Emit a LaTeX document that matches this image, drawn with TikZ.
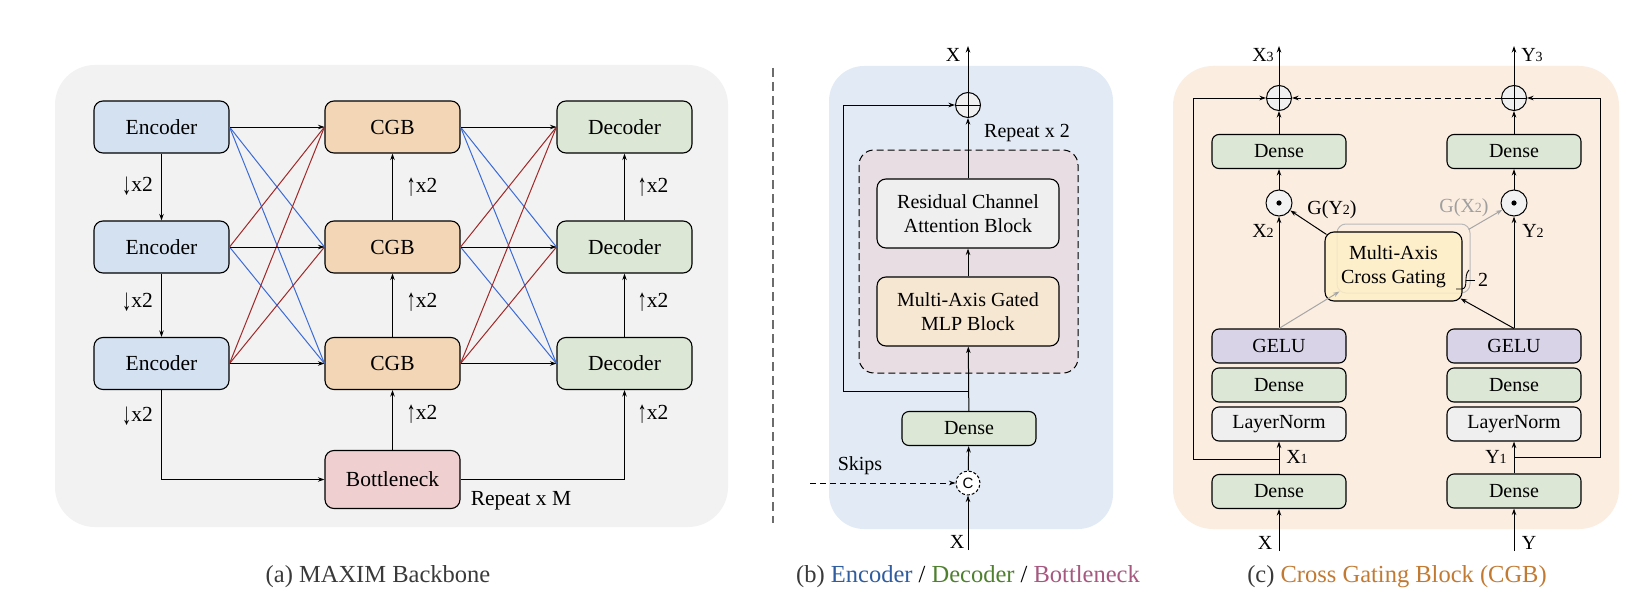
\documentclass[tikz,border=0pt]{standalone}
\usepackage{fontspec}
\usepackage{graphicx}
\setmainfont{Liberation Serif}
\newfontfamily\sansf{Liberation Sans}
\usetikzlibrary{arrows.meta}

\definecolor{bgA}{HTML}{F2F2F2}
\definecolor{bgB}{HTML}{E2EBF5}
\definecolor{bgC}{HTML}{FBEDE0}
\definecolor{encF}{HTML}{D4E1F1}
\definecolor{cgbF}{HTML}{F2D6B5}
\definecolor{decF}{HTML}{DCE8D5}
\definecolor{botF}{HTML}{EFCFD0}
\definecolor{repF}{HTML}{E8DDE3}
\definecolor{rcabF}{HTML}{EFEFEF}
\definecolor{mlpF}{HTML}{F6E7D2}
\definecolor{geluF}{HTML}{D9D3E8}
\definecolor{gateF}{HTML}{FFF0C6}
\definecolor{skipB}{HTML}{3A6BD6}
\definecolor{skipR}{HTML}{A02828}
\definecolor{capK}{HTML}{3A3A3A}
\definecolor{capB}{HTML}{2F5D9F}
\definecolor{capG}{HTML}{4F8030}
\definecolor{capM}{HTML}{A6587F}
\definecolor{capO}{HTML}{C27A33}

\newcommand\subd[1]{{\fontsize{14}{14}\selectfont #1}}
\newcommand\dnx{\raisebox{-0.12em}{\scalebox{0.85}[1.45]{↓}}x2}
\newcommand\upx{\raisebox{-0.12em}{\scalebox{0.85}[1.45]{↑}}x2}

\begin{document}
\begin{tikzpicture}[x=1pt,y=-1pt,
  box/.style={draw, rounded corners=9pt, line width=1.1pt, inner sep=0pt, align=center},
  abox/.style={box, minimum width=135pt, minimum height=52pt, font=\fontsize{21.5}{24}\selectfont},
  cbox/.style={box, rounded corners=7pt, minimum width=134pt, minimum height=34pt, font=\fontsize{20}{23}\selectfont},
  lbl/.style={inner sep=0pt, font=\fontsize{20}{23}\selectfont},
  albl/.style={inner sep=0pt, font=\fontsize{21.5}{24}\selectfont},
  arr/.style={line width=1pt, -{Stealth[length=6.5pt,width=4.5pt]}},
  dasharr/.style={arr, dash pattern=on 6pt off 4pt},
  grayarr/.style={arr, draw=gray!70},
  bline/.style={line width=1pt, draw=skipB},
  rline/.style={line width=1pt, draw=skipR},
  opplus/.style={circle, draw, line width=1pt, fill=gray!12, minimum size=25pt, inner sep=0pt,
    path picture={\draw[black, line width=1pt] (path picture bounding box.north) -- (path picture bounding box.south)
      (path picture bounding box.west) -- (path picture bounding box.east);}},
  opdot/.style={circle, draw, line width=1pt, fill=gray!10, minimum size=26pt, inner sep=0pt,
    path picture={\fill[black] (path picture bounding box.center) circle (2.6pt);}},
  panel/.style={rounded corners=40pt, draw=none}
]
\useasboundingbox (0,0) rectangle (1644,602);
\fill[white] (0,0) rectangle (1644,602);

% ---------- (a) backbone ----------
\fill[panel, fill=bgA] (55,65) rectangle (728,527);

\node[abox, fill=encF] (e1) at (161.5,127) {Encoder};
\node[abox, fill=encF] (e2) at (161.5,247) {Encoder};
\node[abox, fill=encF] (e3) at (161.5,363.5) {Encoder};
\node[abox, fill=cgbF] (c1) at (392.5,127) {CGB};
\node[abox, fill=cgbF] (c2) at (392.5,247) {CGB};
\node[abox, fill=cgbF] (c3) at (392.5,363.5) {CGB};
\node[abox, fill=decF] (d1) at (624.5,127) {Decoder};
\node[abox, fill=decF] (d2) at (624.5,247) {Decoder};
\node[abox, fill=decF] (d3) at (624.5,363.5) {Decoder};
\node[abox, fill=botF, minimum height=58pt] (bn) at (392.5,479.5) {Bottleneck};

% cross-scale connections
\draw[bline] (e1.east) -- (c2.west);
\draw[bline] (e1.east) -- (c3.west);
\draw[bline] (e2.east) -- (c3.west);
\draw[rline] (e2.east) -- (c1.west);
\draw[rline] (e3.east) -- (c1.west);
\draw[rline] (e3.east) -- (c2.west);
\draw[bline] (c1.east) -- (d2.west);
\draw[bline] (c1.east) -- (d3.west);
\draw[bline] (c2.east) -- (d3.west);
\draw[rline] (c2.east) -- (d1.west);
\draw[rline] (c3.east) -- (d1.west);
\draw[rline] (c3.east) -- (d2.west);

\foreach \i in {1,2,3} {
  \draw[arr] (e\i) -- (c\i);
  \draw[arr] (c\i) -- (d\i);
}
\draw[arr] (e1) -- (e2);
\draw[arr] (e2) -- (e3);
\draw[arr] (c2) -- (c1);
\draw[arr] (c3) -- (c2);
\draw[arr] (bn) -- (c3);
\draw[arr] (d2) -- (d1);
\draw[arr] (d3) -- (d2);
\draw[arr] (e3.south) |- (bn.west);
\draw[arr] (bn.east) -| (d3.south);

\node[albl] (ld1) at (137.5,186) {\dnx};
\node[albl] (ld2) at (137.5,302) {\dnx};
\node[albl] (ld3) at (137.5,416) {\dnx};
\node[albl] (lu1) at (422,187) {\upx};
\node[albl] (lu2) at (422,302) {\upx};
\node[albl] (lu3) at (422,414) {\upx};
\node[albl] (lv1) at (653,187) {\upx};
\node[albl] (lv2) at (653,302) {\upx};
\node[albl] (lv3) at (653,414) {\upx};
\node[albl] (repm) at (521,501) {Repeat x M};

% separator
\draw[gray!85!black, line width=1.6pt, dash pattern=on 9pt off 5pt] (773,68) -- (773,523);

% ---------- (b) encoder / decoder / bottleneck ----------
\fill[panel, rounded corners=35pt, fill=bgB] (829,66) rectangle (1113,529);
\draw[fill=repF, line width=1pt, dash pattern=on 7pt off 4pt, rounded corners=15pt] (859,150) rectangle (1078,373);

\node[box, fill=rcabF, minimum width=182pt, minimum height=69pt, font=\fontsize{20}{23.5}\selectfont] (rcab) at (968,213.5) {Residual Channel\\Attention Block};
\node[box, fill=mlpF, minimum width=182pt, minimum height=69pt, font=\fontsize{20}{23.5}\selectfont] (mlp) at (968,311.5) {Multi-Axis Gated\\MLP Block};
\node[cbox, fill=decF] (dnb) at (969,428.5) {Dense};
\node[opplus] (pb) at (968,105) {};
\node[circle, draw, line width=1pt, dash pattern=on 3pt off 2pt, fill=white, minimum size=24pt, inner sep=0pt,
      font=\sansf\fontsize{15}{15}\selectfont] (cc) at (968,483) {C};

\coordinate (pbtop) at (968,46);
\coordinate (bsplit) at (968,391);
\coordinate (bloop) at (843,391);
\coordinate (skipin) at (810,483);
\coordinate (xbin) at (968,550);

\draw[arr] (pb.north) -- (pbtop);
\draw[arr] (rcab) -- (pb);
\draw[arr] (mlp) -- (rcab);
\draw[arr] (dnb) -- (mlp);
\draw[arr] (bsplit) -- (bloop) |- (pb.west);
\draw[arr] (cc) -- (dnb);
\draw[arr] (xbin) -- (cc.south);
\draw[dasharr] (skipin) -- (cc.west);

\node[lbl] (xbt) at (953,55) {X};
\node[lbl] (xbb) at (957,542) {X};
\node[lbl] (skl) at (860,466) {Skips};
\node[lbl] (rep2) at (1027,133) {Repeat x 2};

% ---------- (c) cross gating block ----------
\fill[panel, fill=bgC] (1173,66) rectangle (1619,529);

\node[cbox, fill=decF] (l0) at (1279,491.5) {Dense};
\node[cbox, fill=rcabF] (lnm) at (1279,424) {LayerNorm};
\node[cbox, fill=decF] (l1) at (1279,385) {Dense};
\node[cbox, fill=geluF] (lg) at (1279,346) {GELU};
\node[opdot] (lm) at (1279,203) {};
\node[cbox, fill=decF] (l2) at (1279,151.5) {Dense};
\node[opplus] (lp) at (1279,98) {};

\node[cbox, fill=decF] (r0) at (1514,491) {Dense};
\node[cbox, fill=rcabF] (rnm) at (1514,424) {LayerNorm};
\node[cbox, fill=decF] (r1) at (1514,385) {Dense};
\node[cbox, fill=geluF] (rg) at (1514,346) {GELU};
\node[opdot] (rm) at (1514,203) {};
\node[cbox, fill=decF] (r2) at (1514,151.5) {Dense};
\node[opplus] (rp) at (1514,98) {};

\node[draw=gray!55, rounded corners=9pt, line width=1pt, minimum width=133pt, minimum height=69pt, inner sep=0pt] (gsh) at (1403.5,258.5) {};
\node[box, fill=gateF, fill opacity=0.8, text opacity=1, minimum width=137pt, minimum height=69pt,
      font=\fontsize{20}{23.5}\selectfont] (gate) at (1393.5,266.5) {Multi-Axis\\Cross Gating};

\coordinate (xin) at (1279,551);
\coordinate (yin) at (1514,551);
\coordinate (xout) at (1279,46);
\coordinate (yout) at (1514,46);
\coordinate (lsplit) at (1279,459);
\coordinate (lloop) at (1193,459);
\coordinate (rsplit) at (1514,457);
\coordinate (rloop) at (1600,457);

\draw[arr] (xin) -- (l0);
\draw[arr] (l0) -- (lnm);
\draw[arr] (lg) -- (lm);
\draw[arr] (lm) -- (l2);
\draw[arr] (l2) -- (lp);
\draw[arr] (lp.north) -- (xout);
\draw[arr] (lsplit) -- (lloop) |- (lp.west);

\draw[arr] (yin) -- (r0);
\draw[arr] (r0) -- (rnm);
\draw[arr] (rg) -- (rm);
\draw[arr] (rm) -- (r2);
\draw[arr] (r2) -- (rp);
\draw[arr] (rp.north) -- (yout);
\draw[arr] (rsplit) -- (rloop) |- (rp.east);

\draw[dasharr] (rp.west) -- (lp.east);

\draw[arr] ([xshift=2pt,yshift=-3pt]gate.north west) -- (lm);
\draw[grayarr] ([xshift=-2pt,yshift=-6pt]gsh.north east) -- (rm);
\draw[grayarr] (lg.north) -- ([xshift=3pt,yshift=2pt]gsh.south west);
\draw[arr] (rg.north) -- ([xshift=-2pt,yshift=3pt]gate.south east);

% repeat mark on the gating block
\draw[line width=0.9pt] (1456,289) -- (1462,289) .. controls (1469,288) and (1463,276) .. (1469,270);
\draw[line width=0.9pt] (1466,280) -- (1475,280);
\node[lbl] (two) at (1483,280) {2};

\node[lbl] (x1l) at (1297,457) {X\subd{1}};
\node[lbl] (y1l) at (1496,457) {Y\subd{1}};
\node[lbl] (x2l) at (1263,231) {X\subd{2}};
\node[lbl] (y2l) at (1533,231) {Y\subd{2}};
\node[lbl] (x3l) at (1263,55) {X\subd{3}};
\node[lbl] (y3l) at (1532,55) {Y\subd{3}};
\node[lbl] (gy) at (1332,210) {G(Y\subd{2})};
\node[lbl, text=gray!75] (gx) at (1464,208) {G(X\subd{2})};
\node[lbl] (xcb) at (1265,543) {X};
\node[lbl] (ycb) at (1529,543) {Y};

% ---------- captions ----------
\node[inner sep=0pt, font=\fontsize{24.5}{28}\selectfont, text=capK] (capa) at (378,577) {(a) MAXIM Backbone};
\node[inner sep=0pt, font=\fontsize{24.5}{28}\selectfont, text=capK] (capb) at (968,577)
  {(b) \textcolor{capB}{Encoder} \textcolor{black}{/} \textcolor{capG}{Decoder} \textcolor{black}{/} \textcolor{capM}{Bottleneck}};
\node[inner sep=0pt, font=\fontsize{24.5}{28}\selectfont, text=capK] (capc) at (1397,577)
  {(c) \textcolor{capO}{Cross Gating Block (CGB)}};
\end{tikzpicture}
\end{document}
